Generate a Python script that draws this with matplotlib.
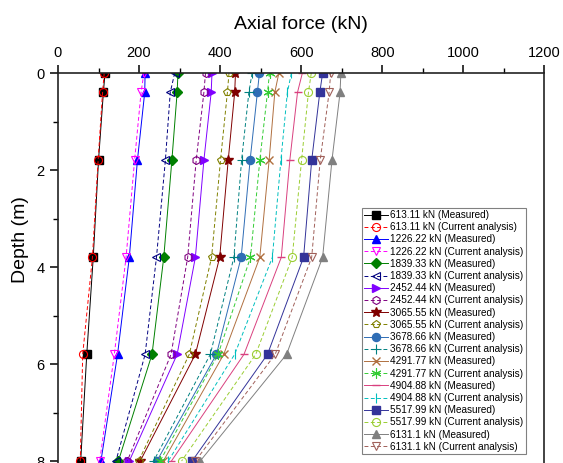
import matplotlib
matplotlib.use('Agg')
import matplotlib.pyplot as plt

plt.rcParams['font.family'] = ['Liberation Sans', 'DejaVu Sans']

# Depths of the strain gauge levels along the pile (m)
depths = [0.0, 0.4, 1.8, 3.8, 5.8, 8.0]

# Applied head loads (kN)
loads = ['613.11', '1226.22', '1839.33', '2452.44', '3065.55',
         '3678.66', '4291.77', '4904.88', '5517.99', '6131.1']

# Axial force profiles (kN), measured and current analysis, one list per load
measured_613 = [116, 112, 100, 87, 71, 56]
current_613 = [114, 110, 99, 85, 61, 55]
measured_1226 = [215, 214, 196, 176, 147, 106]
current_1226 = [212, 205, 189, 168, 139, 103]
measured_1839 = [296, 294, 281, 261, 232, 149]
current_1839 = [288, 277, 265, 243, 215, 143]
measured_2452 = [380, 378, 360, 339, 294, 176]
current_2452 = [364, 360, 341, 320, 279, 171]
measured_3065 = [438, 436, 420, 399, 339, 203]
current_3065 = [422, 418, 401, 379, 324, 199]
measured_3678 = [497, 492, 474, 452, 391, 244]
current_3678 = [479, 471, 453, 434, 376, 236]
measured_4291 = [545, 535, 521, 498, 409, 260]
current_4291 = [522, 517, 498, 475, 395, 252]
measured_4904 = [603, 591, 572, 551, 459, 280]
current_4904 = [576, 566, 550, 529, 436, 272]
measured_5517 = [653, 646, 626, 606, 517, 331]
current_5517 = [625, 618, 601, 578, 488, 305]
measured_6131 = [698, 696, 676, 653, 564, 351]
current_6131 = [673, 669, 647, 626, 536, 339]

measured = [measured_613, measured_1226, measured_1839, measured_2452, measured_3065,
            measured_3678, measured_4291, measured_4904, measured_5517, measured_6131]
current = [current_613, current_1226, current_1839, current_2452, current_3065,
           current_3678, current_4291, current_4904, current_5517, current_6131]

# asterisk made of three crossing strokes
ASTERISK = (6, 2, 0)

# symbol / colour pairs: (measured, current analysis)
meas_style = [('s', '#000000'), ('^', '#0000FF'), ('D', '#008000'), ('>', '#8000FF'),
              ('*', '#800000'), ('o', '#2F6DB5'), ('x', '#B07040'), ('_', '#D9407F'),
              ('s', '#333399'), ('^', '#808080')]
curr_style = [('o', '#FF0000'), ('v', '#FF00FF'), ('<', '#000080'), ('h', '#800080'),
              ('p', '#808000'), ('+', '#008080'), (ASTERISK, '#33CC33'), ('|', '#00BFBF'),
              ('o', '#9ACD32'), ('v', '#A0605A')]


def marker_size(mk):
    if mk == 'D':
        return 5.0
    if mk in ('+', '*', '|', ASTERISK):
        return 7.2
    return 5.8


fig = plt.figure(figsize=(5.63, 4.63), dpi=100)
# axes runs past the bottom edge so only the upper 8 m are shown
ax = fig.add_axes([0.1030, -0.2052, 0.8638, 1.0475])

for i in range(len(loads)):
    mk, col = meas_style[i]
    ax.plot(measured[i], depths, color=col, lw=0.7, marker=mk,
            ms=marker_size(mk), mfc=col, mec=col,
            mew=1.0, label=f'{loads[i]} kN (Measured)')
    mk, col = curr_style[i]
    ax.plot(current[i], depths, color=col, lw=0.7, ls=(0, (4, 2.5)), marker=mk,
            ms=marker_size(mk), mfc='none', mec=col,
            mew=0.8, label=f'{loads[i]} kN (Current analysis)')

ax.set_xlim(0, 1200)
ax.set_ylim(10, 0)
ax.xaxis.tick_top()
ax.xaxis.set_label_position('top')
ax.set_xticks(range(0, 1201, 200))
ax.set_xticks(range(100, 1200, 200), minor=True)
ax.set_yticks([0, 2, 4, 6, 8, 10])
ax.set_yticks([1, 3, 5, 7, 9], minor=True)
ax.tick_params(which='major', direction='out', length=6, width=1.1, labelsize=10.5,
               top=True, bottom=False, right=False)
ax.tick_params(which='minor', direction='out', length=3.5, width=1.0,
               top=True, bottom=False, right=False)
for s in ax.spines.values():
    s.set_linewidth(1.2)
    s.set_color('#222222')

ax.set_xlabel('Axial force (kN)', fontsize=14, labelpad=12)
ax.set_ylabel('Depth (m)', fontsize=14)
ax.yaxis.set_label_coords(-0.06, 0.656)

leg = ax.legend(loc='upper left', bbox_to_anchor=(362 / 563, 1 - 208 / 463),
                bbox_transform=fig.transFigure, fontsize=7.2, numpoints=1,
                frameon=True, fancybox=False, edgecolor='#808080', framealpha=1,
                borderpad=0.2, borderaxespad=0, labelspacing=0.22,
                handlelength=2.4, handletextpad=0.25)
leg.get_frame().set_linewidth(0.8)

plt.savefig('out.png', dpi=100)
plt.close(fig)
